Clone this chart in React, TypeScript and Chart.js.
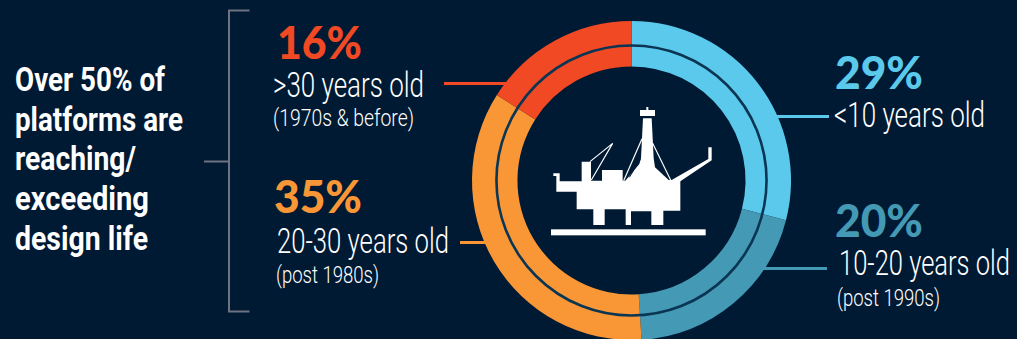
import React, { useEffect, useRef } from "react";
import { Chart, registerables } from "chart.js";

Chart.register(...registerables);

// Platform age shares, clockwise from twelve o'clock
const ageBands = ["<10 years old", "10-20 years old", "20-30 years old", ">30 years old"];
const shares = [29, 20, 35, 16];
const bandColors = ["#5bc9ec", "#4499b5", "#f99737", "#f04923"];

const PAGE_BG = "#011a33";
const BRACKET = "#6d7382";

const headline = ["Over 50% of", "platforms are", "reaching/", "exceeding", "design life"];
const headlineBaselines = [90.5, 130.5, 170, 210, 249.5];
const headlineWidths = [150, 168, 121, 134, 133];

const figureFont = "Lato, sans-serif";
const captionFont = "'Roboto', sans-serif";

const innerRing = {
  id: "innerRing",
  afterDatasetsDraw(chart: Chart) {
    const arc = chart.getDatasetMeta(0).data[0] as any;
    if (!arc) return;
    const { ctx } = chart;
    ctx.save();
    ctx.beginPath();
    ctx.arc(arc.x, arc.y, arc.innerRadius + 21, 0, Math.PI * 2);
    ctx.lineWidth = 2.6;
    ctx.strokeStyle = "#0a3553";
    ctx.stroke();
    ctx.restore();
  },
};

function Figure({ text, x, y, w, fill }: { text: string; x: number; y: number; w: number; fill: string }) {
  return (
    <text x={x} y={y} textLength={w} lengthAdjust="spacingAndGlyphs" fill={fill}
      style={{ font: `900 46px ${figureFont}` }}>{text}</text>
  );
}

function Caption({ text, x, y, w, size }: { text: string; x: number; y: number; w: number; size: number }) {
  return (
    <text x={x} y={y} textLength={w} lengthAdjust="spacingAndGlyphs" fill="#ffffff"
      style={{ font: `300 ${size}px ${captionFont}` }}>{text}</text>
  );
}

// Semi-submersible platform pictogram
function Platform() {
  return (
    <svg x={540} y={90} width={190} height={160} viewBox="0 0 570 480">
      <g fill="#ffffff">
        <rect x={33} y={418} width={464} height={18} />
        <path d="M40 250 H59 V274 H125 V215 H153 V272 H186 V240 H248 V272 H256 L298 222 L303 205 L309 85 H335 L341 205 L345 232 L386 270 L395 270 L505 207 V172 H515 V211 L421 274 V362 H370 V405 H334 V364 H273 V405 H257 V358 H194 V405 H160 V358 H110 V305 H49 V258 H40 Z" />
        <rect x={300} y={60} width={45} height={18} />
        <rect x={319} y={51} width={6} height={10} />
      </g>
      <g fill="none" stroke="#ffffff" strokeWidth={3.5}>
        <path d="M150 215 L218 160 L154 270" />
        <path d="M306 146 L251 272" />
        <path d="M338 160 L393 272" />
      </g>
      <g fill="none" stroke={PAGE_BG} strokeWidth={3}>
        <path d="M301 208 L268 262" />
        <path d="M344 205 L372 256" />
      </g>
    </svg>
  );
}

export default function App() {
  const canvasRef = useRef<HTMLCanvasElement>(null);

  useEffect(() => {
    const chart = new Chart(canvasRef.current!, {
      type: "doughnut",
      data: {
        labels: ageBands,
        datasets: [{ data: shares, backgroundColor: bandColors, borderWidth: 0, hoverBorderWidth: 0, hoverOffset: 0 }],
      },
      options: {
        responsive: false,
        animation: false,
        cutout: "71.5%",
        rotation: 0,
        layout: { padding: { left: 472, right: 226, top: 21, bottom: 21 } },
        plugins: { legend: { display: false }, tooltip: { enabled: false } },
      },
      plugins: [innerRing],
    });
    return () => chart.destroy();
  }, []);

  return (
    <div style={{ position: "fixed", left: 0, top: 0, width: 1017, height: 339, overflow: "hidden", background: PAGE_BG }}>
      <svg width={1017} height={339} style={{ position: "absolute", left: 0, top: 0 }}>
        {headline.map((line, i) => (
          <text key={line} x={15} y={headlineBaselines[i]} textLength={headlineWidths[i]} lengthAdjust="spacingAndGlyphs"
            fill="#ffffff" style={{ font: `700 34px ${captionFont}` }}>{line}</text>
        ))}

        <path d="M204 161.5 H229 M249.5 10.5 H229 V311.5 H249.5" fill="none" stroke={BRACKET} strokeWidth={2} />

        <path d="M444 83.5 H510" stroke={bandColors[3]} strokeWidth={3} />
        <path d="M460 242.5 H490" stroke={bandColors[2]} strokeWidth={3} />
        <path d="M770 116.5 H829" stroke={bandColors[0]} strokeWidth={3} />
        <path d="M760 268.5 H827" stroke={bandColors[1]} strokeWidth={3} />

        <Figure text={`${shares[3]}%`} x={277} y={58.5} w={85} fill={bandColors[3]} />
        <Caption text={ageBands[3]} x={273} y={96.5} w={151} size={35} />
        <Caption text="(1970s & before)" x={273} y={126} w={141} size={24} />

        <Figure text={`${shares[2]}%`} x={274} y={213} w={88} fill={bandColors[2]} />
        <Caption text={ageBands[2]} x={277} y={252.5} w={172} size={35} />
        <Caption text="(post 1980s)" x={276} y={283} w={103} size={24} />

        <Figure text={`${shares[0]}%`} x={835} y={89} w={88} fill={bandColors[0]} />
        <Caption text={ageBands[0]} x={834} y={126.5} w={151} size={35} />

        <Figure text={`${shares[1]}%`} x={835} y={236.5} w={88} fill={bandColors[1]} />
        <Caption text={ageBands[1]} x={839} y={275} w={171} size={35} />
        <Caption text="(post 1990s)" x={837} y={306} w={103} size={24} />

        <Platform />
      </svg>
      <canvas ref={canvasRef} width={1017} height={361} style={{ position: "absolute", left: 0, top: 0, display: "block" }} />
    </div>
  );
}
